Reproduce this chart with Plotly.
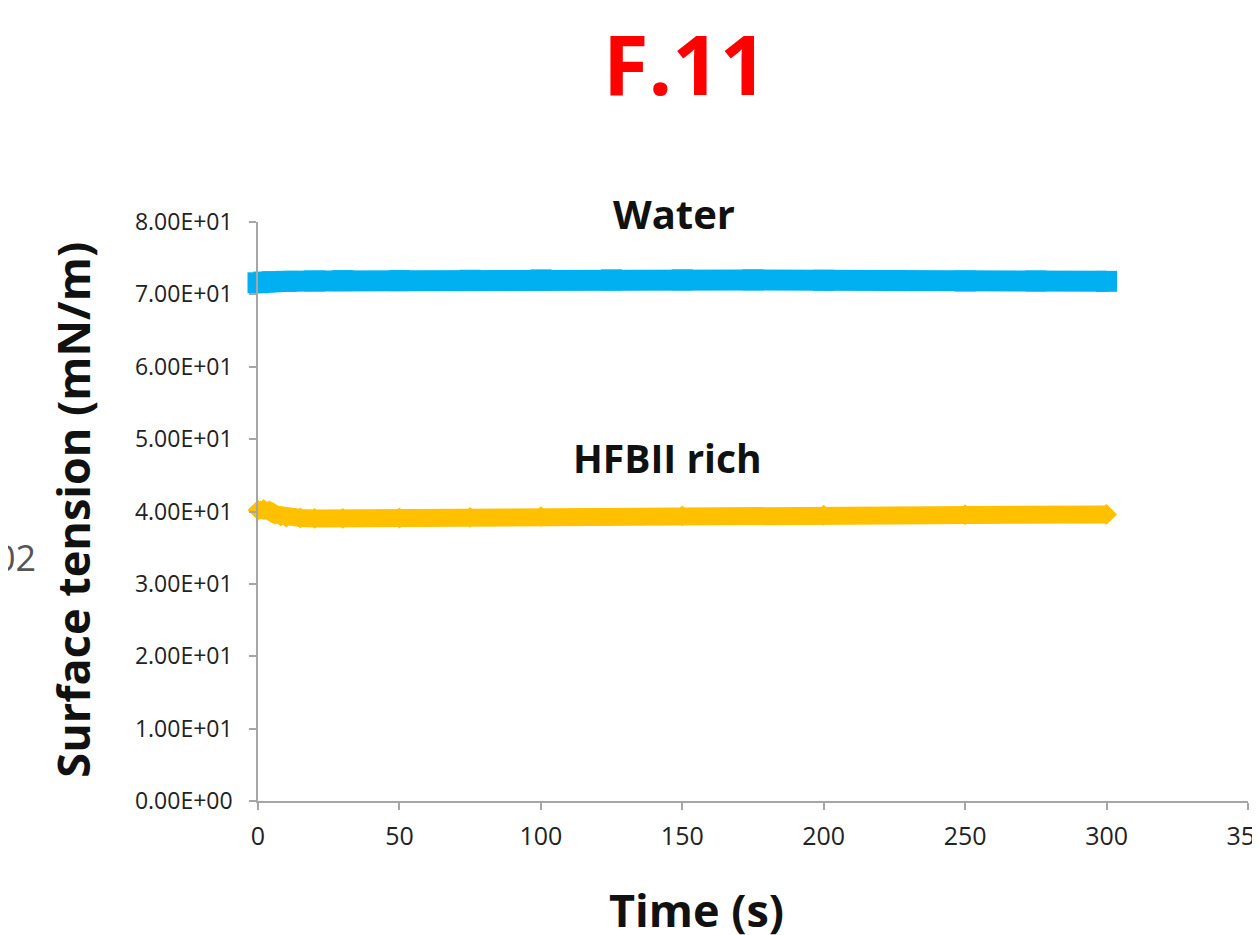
import plotly.graph_objects as go

# ---- data ----
water_time = [0, 2, 5, 10, 20, 30, 50, 75, 100, 125, 150, 175, 200, 225, 250, 275, 300]
water_st = [71.6, 71.7, 71.75, 71.8, 71.85, 71.9, 71.9, 71.95, 72.0, 72.0, 72.0, 72.0, 71.95, 71.9, 71.85, 71.85, 71.8]

hfb_time = [0, 2, 4, 6, 8, 10, 15, 20, 30, 50, 75, 100, 150, 200, 250, 300]
hfb_st = [40.2, 40.3, 40.1, 39.6, 39.35, 39.2, 39.1, 39.05, 39.05, 39.1, 39.2, 39.3, 39.4, 39.5, 39.55, 39.6]

y_tickvals = [0, 10, 20, 30, 40, 50, 60, 70, 80]
y_ticktext = ["0.00E+00", "1.00E+01", "2.00E+01", "3.00E+01", "4.00E+01",
              "5.00E+01", "6.00E+01", "7.00E+01", "8.00E+01"]
x_tickvals = [0, 50, 100, 150, 200, 250, 300, 350]

FONT = "Open Sans"
AX = "#a6a6a6"

fig = go.Figure()
fig.add_trace(go.Scatter(
    x=water_time, y=water_st, mode="lines+markers",
    line=dict(color="#00b0f0", width=21),
    marker=dict(symbol="square", size=21, color="#00b0f0"),
    showlegend=False, cliponaxis=False))
fig.add_trace(go.Scatter(
    x=hfb_time, y=hfb_st, mode="lines+markers",
    line=dict(color="#ffc000", width=18),
    marker=dict(symbol="diamond", size=16, color="#ffc000"),
    showlegend=False, cliponaxis=False))

fig.update_layout(
    width=1252, height=927,
    margin=dict(l=250, r=12, t=214, b=134),
    paper_bgcolor="white", plot_bgcolor="white",
    font=dict(family=FONT, color="#222"),
    xaxis=dict(range=[0, 350], tickvals=x_tickvals, showgrid=False, zeroline=False,
               showline=True, linecolor=AX, linewidth=1.5, automargin=False,
               ticks="outside", ticklen=7, tickcolor=AX, tickwidth=1.5,
               ticklabeloverflow="allow", ticklabelstandoff=5,
               tickfont=dict(size=25, color="#222", family=FONT)),
    yaxis=dict(range=[0, 80], tickvals=y_tickvals, ticktext=y_ticktext,
               showgrid=False, zeroline=False, automargin=False,
               showline=True, linecolor=AX, linewidth=1.5,
               ticks="outside", ticklen=7, tickcolor=AX, tickwidth=1.5,
               ticklabeloverflow="allow", ticklabelstandoff=12,
               tickfont=dict(size=23, color="#222", family=FONT)),
    annotations=[
        dict(text="<b>F.11</b>", xref="paper", yref="paper", x=0.431, y=1.276,
             xanchor="center", yanchor="middle", showarrow=False,
             font=dict(size=83, color="#ff0000", family=FONT)),
        dict(text="<b>Water</b>", xref="paper", yref="paper", x=0.420, y=1.014,
             xanchor="center", yanchor="middle", showarrow=False,
             font=dict(size=40, color="#111", family=FONT)),
        dict(text="<b>HFBII rich</b>", xref="x", yref="y", x=144.9, y=47.4,
             xanchor="center", yanchor="middle", showarrow=False,
             font=dict(size=39, color="#111", family=FONT)),
        dict(text="<b>Surface tension (mN/m)</b>", xref="paper", yref="paper",
             x=-0.187, y=0.503, xanchor="center", yanchor="middle", textangle=-90,
             showarrow=False, font=dict(size=45, color="#111", family=FONT)),
        dict(text="<b>Time (s)</b>", xref="paper", yref="paper", x=0.443, y=-0.188,
             xanchor="center", yanchor="middle", showarrow=False,
             font=dict(size=45, color="#111", family=FONT)),
        dict(text="02", xref="paper", yref="paper", x=-0.222, y=0.421,
             xanchor="right", yanchor="middle", showarrow=False,
             font=dict(size=36, color="#555", family=FONT)),
    ],
)

fig.write_html("out.html")
